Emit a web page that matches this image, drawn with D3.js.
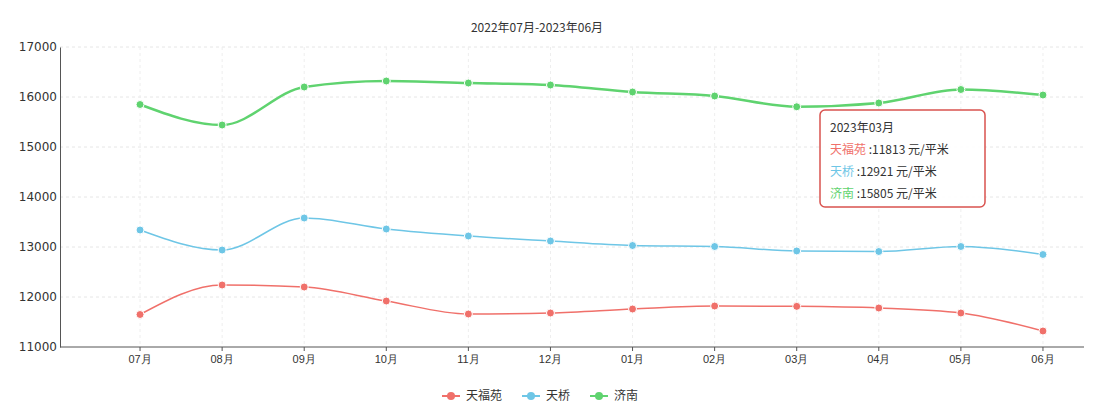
<!DOCTYPE html><html><head><meta charset="utf-8"><script src="https://cdn.jsdelivr.net/npm/d3@7"></script>
<style>body{margin:0;background:#fff;font-family:"Noto Sans CJK SC","Noto Sans",sans-serif}</style></head><body><svg id="c" width="1108" height="414"></svg>
<script>
const categories=["07月","08月","09月","10月","11月","12月","01月","02月","03月","04月","05月","06月"];
const names=["天福苑","天桥","济南"];
const colors=["#f0706a","#6ec6e6","#5fd36f"];
const s1=[11650,12240,12200,11920,11660,11680,11760,11820,11813,11780,11680,11320];
const s2=[13340,12940,13580,13360,13220,13120,13030,13010,12921,12910,13010,12850];
const s3=[15850,15440,16200,16320,16280,16240,16100,16020,15805,15880,16150,16040];
const yTicks=[11000,12000,13000,14000,15000,16000,17000];
const series=[s1,s2,s3];
const svg=d3.select("#c");
const x=d3.scaleBand().domain(categories).range([99,1084]);
const y=d3.scaleLinear().domain([11000,17000]).range([347,47]);
const cx=d=>x(d)+x.bandwidth()/2;
svg.append("text").attr("x",537).attr("y",32).attr("text-anchor","middle").attr("font-size",12).attr("fill","#333").text("2022年07月-2023年06月");
yTicks.forEach(t=>{if(t>11000)svg.append("line").attr("x1",60).attr("x2",1084).attr("y1",y(t)).attr("y2",y(t)).attr("stroke","#e6e6e6").attr("stroke-dasharray","3,3");});
categories.forEach(c=>svg.append("line").attr("x1",cx(c)).attr("x2",cx(c)).attr("y1",47).attr("y2",347).attr("stroke","#eee").attr("stroke-dasharray","3,3"));
const ya=svg.append("g").attr("transform","translate(60,0)").call(d3.axisLeft(y).tickValues(yTicks).tickSize(0).tickPadding(3).tickFormat(d3.format("d")));
ya.select(".domain").attr("stroke","#555");
ya.selectAll("text").attr("font-size",12).attr("fill","#333").attr("font-family","DejaVu Sans");
const xa=svg.append("g").attr("transform","translate(0,347)").call(d3.axisBottom(x).tickSize(4).tickPadding(4));
xa.select(".domain").attr("stroke","#555").attr("d","M60,0H1084");
xa.selectAll("line").attr("stroke","#555");
xa.selectAll("text").attr("font-size",11).attr("fill","#333");
const line=d3.line().x((d,i)=>cx(categories[i])).y(d=>y(d)).curve(d3.curveMonotoneX);
series.forEach((s,k)=>{
 svg.append("path").datum(s).attr("d",line).attr("fill","none").attr("stroke",colors[k]).attr("stroke-width",k==2?2.5:1.5);
 svg.selectAll(null).data(s).enter().append("circle").attr("cx",(d,i)=>cx(categories[i])).attr("cy",d=>y(d)).attr("r",4).attr("fill",colors[k]).attr("stroke","#fff").attr("stroke-width",1);
});
// legend
let lx=442;
names.forEach((n,k)=>{
 const g=svg.append("g").attr("transform",`translate(${lx},396)`);
 g.append("line").attr("x1",0).attr("x2",18).attr("stroke",colors[k]).attr("stroke-width",2);
 g.append("circle").attr("cx",9).attr("r",4).attr("fill",colors[k]);
 g.append("text").attr("x",24).attr("y",4).attr("font-size",12).attr("fill","#333").text(n);
 lx+=24+n.length*12+20;
});
// tooltip
const ti=8;
const tg=svg.append("g").attr("transform","translate(820,110)");
tg.append("rect").attr("width",165).attr("height",97).attr("rx",5).attr("fill","rgba(255,255,255,0.92)").attr("stroke","#d9534f").attr("stroke-width",1.5);
tg.append("text").attr("x",10).attr("y",22).attr("font-size",12).attr("fill","#333").text("2023年"+categories[ti].replace("月","")+"月");
series.forEach((s,k)=>{
 const t=tg.append("text").attr("x",10).attr("y",44+k*22).attr("font-size",12).attr("fill","#333");
 t.append("tspan").attr("fill",colors[k]).text(names[k]);
 t.append("tspan").text(" :"+s[ti]+" 元/平米");
});
</script></body></html>
